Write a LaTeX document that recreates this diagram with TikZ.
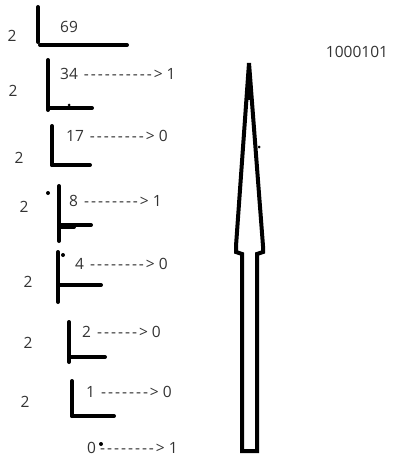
\documentclass[tikz,border=0pt]{standalone}
\usepackage{fontspec}
\setmainfont{Open Sans}[Ligatures=TeXOff]
\newcommand{\ds}[1]{\foreach \k in {1,...,#1}{-\kern2pt}}
\newcommand{\gapsp}{\hspace{6pt}}
\begin{document}
\begin{tikzpicture}[x=1pt,y=-1pt,
  bar/.style={line width=4pt,line cap=round},
  lbl/.style={font=\fontsize{15.5}{17}\selectfont,text=black!80,inner sep=0pt,anchor=west},
  two/.style={font=\fontsize{15.5}{17}\selectfont,text=black!80,inner sep=0pt},
  dotm/.style={circle,fill=black,inner sep=0pt,minimum size=4pt}]
\useasboundingbox (0,0) rectangle (406,460);
% row 1
\node[two] (d1) at (12,36) {2};
\node[lbl] (n1) at (60,27) {69};
\draw[bar] (38,7) -- (38,42);
\draw[bar] (40,45) -- (127,45);
% row 2
\node[two] (d2) at (13,91) {2};
\node[lbl] (n2) at (60,74) {34\gapsp\ds{10}> 1};
\draw[bar] (48,60) -- (48,110);
\draw[bar] (48,108) -- (92,108);
\node[dotm,minimum size=3pt] (p2) at (69,105) {};
% row 3
\node[two] (d3) at (19,158) {2};
\node[lbl] (n3) at (66,136) {17\gapsp\ds{8}> 0};
\draw[bar] (52,126) -- (52,165);
\draw[bar] (52,165) -- (90,165);
% row 4
\node[two] (d4) at (24,207) {2};
\node[dotm] (p4) at (48,193) {};
\node[lbl] (n4) at (69,201) {8\gapsp\ds{8}> 1};
\draw[bar] (59,186) -- (59,241);
\draw[bar] (59,225) -- (91,225);
\draw[bar] (59,227) -- (74,227);
% row 5
\node[two] (d5) at (28,282) {2};
\node[dotm] (p5) at (63,255) {};
\node[lbl] (n5) at (75,264) {4\gapsp\ds{8}> 0};
\draw[bar] (58,252) -- (58,302);
\draw[bar] (60,285) -- (101,285);
% row 6
\node[two] (d6) at (28,343) {2};
\node[lbl] (n6) at (82,332) {2\gapsp\ds{6}> 0};
\draw[bar] (69,322) -- (69,362);
\draw[bar] (69,357) -- (105,357);
% row 7
\node[two] (d7) at (25,402) {2};
\node[lbl] (n7) at (86,392) {1\gapsp\ds{7}> 0};
\draw[bar] (72,381) -- (72,416);
\draw[bar] (72,416) -- (114,416);
% row 8
\node[lbl] (n8) at (87,448) {0\kern4pt\ds{8}> 1};
\node[dotm] (p8) at (101,444) {};
% result
\node[two] (res) at (357,52) {1000101};
% big arrow
\draw[line width=4pt,line join=miter] (249,63) -- (263,246) -- (263,252) -- (257,254) -- (257,451) -- (242,451) -- (242,254) -- (236,252) -- (236,246) -- cycle;
\draw[line width=3pt] (249,63) -- (249,100);
\node[dotm,minimum size=3pt] (pa) at (259,147) {};
\end{tikzpicture}
\end{document}
